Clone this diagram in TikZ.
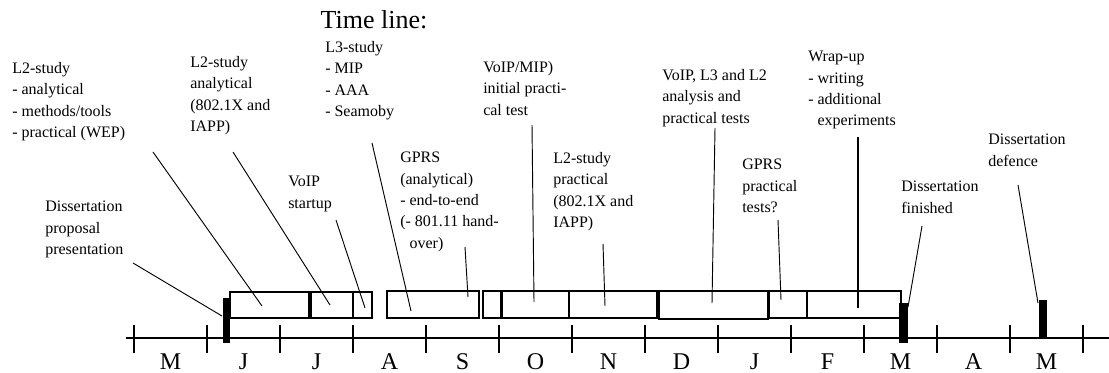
\documentclass[tikz,border=0pt]{standalone}
\usepackage{fontspec}
\setmainfont{Liberation Serif}
\usepackage{tikz}
\usetikzlibrary{positioning}

\tikzset{
  lbl/.style={anchor=north west,inner sep=0pt,align=left,font=\fontsize{12}{16}\selectfont},
  big/.style={font=\fontsize{18}{20}\selectfont},
  taskbox/.style={draw,line width=1.4pt},
  milestone/.style={fill=black},
  leader/.style={line width=0.7pt},
}

\begin{document}
\begin{tikzpicture}[x=0.75pt,y=-0.75pt]
 \useasboundingbox (0,0) rectangle (1109,372);
 % axis, ticks and months
 \draw[line width=1.4pt] (126,338) -- (1109,338);
 \foreach \k in {0,...,13} \draw[line width=1.4pt] ({134+73*\k},325) -- ({134+73*\k},353);
 \foreach \m [count=\i] in {M,J,J,A,S,O,N,D,J,F,M,A,M}
   \node[big,anchor=base,inner sep=0pt] (month\i) at ({134+73*(\i-1)+36.5},369) {\m};
 \node[anchor=base,inner sep=0pt,font=\fontsize{19.5}{22}\selectfont] (title) at (374,28) {Time line:};
 % task boxes
 \draw[taskbox] (230,292) rectangle (309,318);
 \draw[taskbox] (311,292) rectangle (353,318);
 \draw[taskbox] (353,292) rectangle (372,318);
 \draw[taskbox] (387,291) rectangle (479,318);
 \draw[taskbox] (483,291) rectangle (501,318);
 \draw[taskbox] (502,291) rectangle (569,318);
 \draw[taskbox] (569,291) rectangle (657,318);
 \draw[taskbox] (659,291) rectangle (768,319);
 \draw[taskbox] (769,291) rectangle (807,318);
 \draw[taskbox] (807,291) rectangle (901,318);
 % milestones
 \fill[milestone] (223,298) rectangle (230,343);
 \fill[milestone] (899,303) rectangle (908,343);
 \fill[milestone] (1039,300) rectangle (1047,339);
 % labels
 \node[lbl] (l2a) at (12,62) {L2-study\\- analytical\\- methods/tools\\- practical (WEP)};
 \node[lbl] (l2b) at (190,56) {L2-study\\analytical\\(802.1X and\\IAPP)};
 \node[lbl] (voip) at (288,176) {VoIP\\startup};
 \node[lbl] (l3) at (325,41) {L3-study\\- MIP\\- AAA\\- Seamoby};
 \node[lbl] (gprsa) at (400,152) {GPRS\\(analytical)\\- end-to-end\\(- 801.11 hand-\\\hspace*{7pt}over)};
 \node[lbl] (mip) at (483,61) {VoIP/MIP)\\initial practi-\\cal test};
 \node[lbl] (l2c) at (553,152) {L2-study\\practical\\(802.1X and\\IAPP)};
 \node[lbl] (ana) at (662,69) {VoIP, L3 and L2\\analysis and\\practical tests};
 \node[lbl] (gprsp) at (742,159) {GPRS\\practical\\tests?};
 \node[lbl] (wrap) at (808,51) {Wrap-up\\- writing\\- additional\\\hspace*{7pt}experiments};
 \node[lbl] (fin) at (901,181) {Dissertation\\finished};
 \node[lbl] (def) at (988,134) {Dissertation\\defence};
 \node[lbl] (prop) at (45,201) {Dissertation\\proposal\\presentation};
 % leader ends
 \coordinate (l2a-t) at (153,152);   \coordinate (l2a-h) at (262,306);
 \coordinate (l2b-t) at (233,152);   \coordinate (l2b-h) at (330,305);
 \coordinate (voip-t) at (336,220);  \coordinate (voip-h) at (365,308);
 \coordinate (l3-t) at (372,143);    \coordinate (l3-h) at (411,311);
 \coordinate (gprsa-t) at (465,247); \coordinate (gprsa-h) at (468,297);
 \coordinate (mip-t) at (532,125);   \coordinate (mip-h) at (534,302);
 \coordinate (l2c-t) at (603,244);   \coordinate (l2c-h) at (605,306);
 \coordinate (ana-t) at (715,128);   \coordinate (ana-h) at (712,303);
 \coordinate (gprsp-t) at (778,220); \coordinate (gprsp-h) at (781,300);
 \coordinate (wrap-t) at (858,137);  \coordinate (wrap-h) at (858,308);
 \coordinate (fin-t) at (922,226);   \coordinate (fin-h) at (908,307);
 \coordinate (def-t) at (1018,185);  \coordinate (def-h) at (1038,303);
 \coordinate (prop-t) at (133,263);  \coordinate (prop-h) at (222,316);
 \foreach \n in {l2a,l2b,voip,l3,gprsa,mip,l2c,ana,gprsp,fin,def,prop}
   \draw[leader] (\n-t) -- (\n-h);
 \draw[leader,line width=1.1pt] (wrap-t) -- (wrap-h);
\end{tikzpicture}
\end{document}
